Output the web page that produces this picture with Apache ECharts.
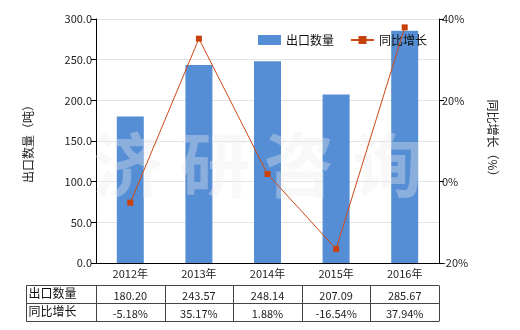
<!DOCTYPE html>
<html>
<head>
<meta charset="utf-8">
<script src="https://cdn.jsdelivr.net/npm/echarts@6/dist/echarts.min.js"></script>
<style>html,body{margin:0;padding:0;background:#fff}#c{width:520px;height:330px}</style>
</head>
<body>
<div id="c"></div>
<script>
var categories = ['2012年', '2013年', '2014年', '2015年', '2016年'];
var exportQty = [180.20, 243.57, 248.14, 207.09, 285.67];
var yoyGrowth = [-5.18, 35.17, 1.88, -16.54, 37.94];
var seriesNames = ['出口数量', '同比增长'];
var leftAxisName = '出口数量（吨）';
var rightAxisName = '同比增长（%）';
var watermarkChars = ['济', '研', '咨', '询'];

var FONT = '"Noto Sans CJK SC", "Noto Sans", sans-serif';
var gridLeft = 96, gridRight = 81, gridTop = 19, gridBottom = 67;
var W = 520, H = 330;
var chart = echarts.init(document.getElementById('c'), null, {renderer: 'canvas'});

var option = {
  animation: false,
  backgroundColor: '#fff',
  textStyle: {fontFamily: FONT},
  legend: {
    top: 29, left: 253,
    itemWidth: 23, itemHeight: 10, itemGap: 16,
    textStyle: {fontSize: 12, color: '#111', fontFamily: FONT},
    data: [
      {name: seriesNames[0], icon: 'rect'},
      {name: seriesNames[1]}
    ]
  },
  grid: {left: gridLeft, right: gridRight, top: gridTop, bottom: gridBottom, containLabel: false},
  xAxis: {
    type: 'category',
    data: categories,
    axisLine: {lineStyle: {color: '#000'}},
    axisTick: {show: false},
    axisLabel: {color: '#222', fontSize: 11, margin: 5, fontFamily: FONT}
  },
  yAxis: [
    {
      type: 'value', min: 0, max: 300, interval: 50,
      name: leftAxisName, nameLocation: 'middle', nameGap: 62, nameRotate: 90,
      nameTextStyle: {fontSize: 12, color: '#222', fontFamily: FONT},
      axisLine: {show: true, lineStyle: {color: '#000'}},
      axisTick: {show: true, length: 5, lineStyle: {color: '#000'}},
      axisLabel: {color: '#222', fontSize: 11, margin: 4, formatter: function (v) { return v.toFixed(1); }},
      splitLine: {lineStyle: {color: '#e4e4e4'}}
    },
    {
      type: 'value', min: -20, max: 40, interval: 20,
      name: rightAxisName, nameLocation: 'middle', nameGap: 48, nameRotate: -90,
      nameTextStyle: {fontSize: 12, color: '#222', fontFamily: FONT},
      axisLine: {show: true, lineStyle: {color: '#000'}},
      axisTick: {show: true, length: 5, lineStyle: {color: '#000'}},
      axisLabel: {color: '#222', fontSize: 11, margin: 3, formatter: '{value}%'},
      splitLine: {show: false}
    }
  ],
  series: [
    {
      name: seriesNames[0], type: 'bar', data: exportQty, barWidth: 27,
      itemStyle: {color: '#558ED5'}, z: 2
    },
    {
      name: seriesNames[1], type: 'line', yAxisIndex: 1, data: yoyGrowth,
      symbol: 'rect', symbolSize: 6,
      lineStyle: {color: '#CC4A14', width: 1},
      itemStyle: {color: '#C8410B'}, z: 5
    }
  ]
};
chart.setOption(option);

// Watermark and data table as graphic elements
var plotW = W - gridLeft - gridRight;
var bandW = plotW / categories.length;
var graphics = [];
var wmCenters = [128, 215, 299, 388];
watermarkChars.forEach(function (ch, i) {
  graphics.push({
    type: 'text', z: 3,
    style: {text: ch, x: wmCenters[i], y: 165, align: 'center', verticalAlign: 'middle',
      font: 'bold 70px ' + FONT, fill: 'rgba(236,236,236,0.36)'}
  });
});
var tLeft = 26.5, tTop = 285.5, rowH = 18, tRight = gridLeft + plotW;
var lineColor = '#444';
var rows = [
  {label: seriesNames[0], vals: exportQty.map(function (v) { return v.toFixed(2); })},
  {label: seriesNames[1], vals: yoyGrowth.map(function (v) { return v.toFixed(2) + '%'; })}
];
for (var r = 0; r <= rows.length; r++) {
  var y = tTop + r * rowH;
  graphics.push({type: 'line', shape: {x1: tLeft, y1: y, x2: tRight, y2: y}, style: {stroke: lineColor, lineWidth: 1}});
}
var vxs = [tLeft];
for (var c = 0; c <= categories.length; c++) vxs.push(Math.round(gridLeft + c * bandW) + 0.5);
vxs.forEach(function (x) {
  graphics.push({type: 'line', shape: {x1: x, y1: tTop, x2: x, y2: tTop + rows.length * rowH}, style: {stroke: lineColor, lineWidth: 1}});
});
rows.forEach(function (row, ri) {
  var cy = tTop + ri * rowH + rowH / 2;
  graphics.push({type: 'text', style: {text: row.label, x: tLeft + 2, y: cy - 1, align: 'left', verticalAlign: 'middle', font: '12px ' + FONT, fill: '#111'}});
  row.vals.forEach(function (v, ci) {
    graphics.push({type: 'text', style: {text: v, x: gridLeft + (ci + 0.5) * bandW, y: cy + 1, align: 'center', verticalAlign: 'middle', font: '11px ' + FONT, fill: '#222'}});
  });
});
chart.setOption({graphic: graphics});
</script>
</body>
</html>
